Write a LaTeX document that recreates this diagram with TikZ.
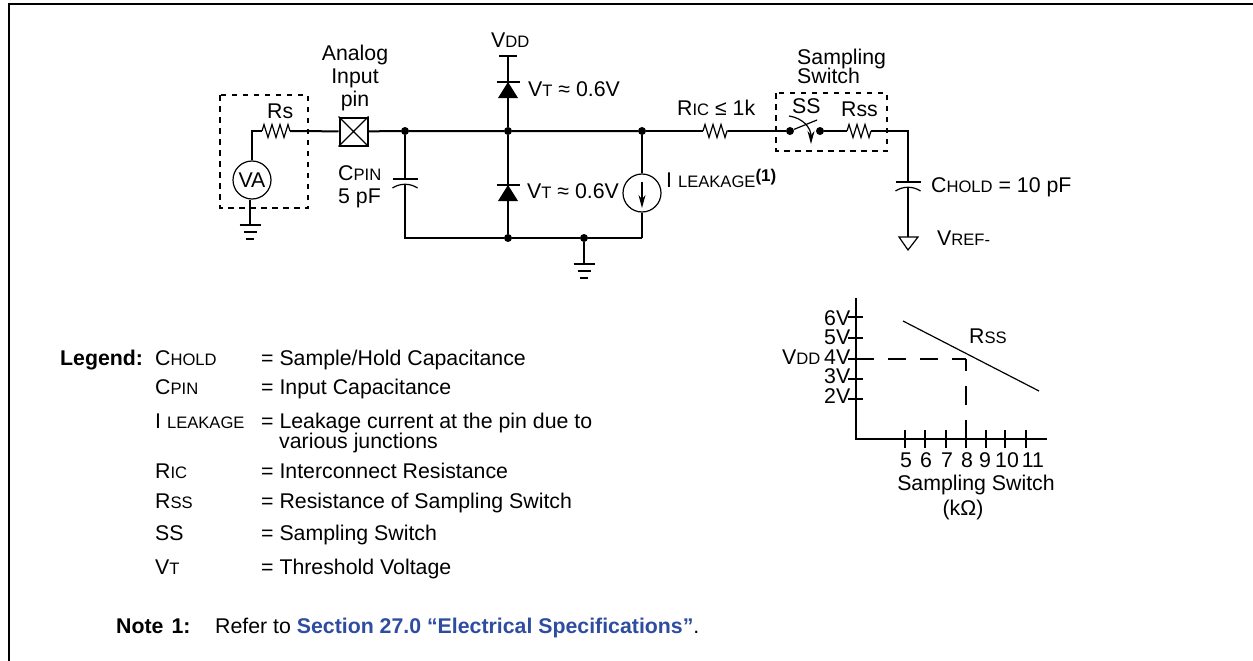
\documentclass[tikz,border=0pt]{standalone}
\usepackage{fontspec}
\setsansfont{Liberation Sans}
\usetikzlibrary{arrows.meta}
\usetikzlibrary{decorations.pathmorphing}
\definecolor{linkblue}{HTML}{2F4DA0}
\tikzset{every picture/.style={/utils/exec={\sffamily}}}
\newcommand{\lowcaps}[1]{{\fontsize{16.6}{18}\selectfont #1}}
\tikzset{
  wire/.style={line width=2pt},
  thin wire/.style={line width=1.2pt},
  box line/.style={line width=2pt, dash pattern=on 5.5pt off 5.5pt},
  junction/.style={circle, fill=black, minimum size=8pt},
  resistor/.style={line width=1.2pt, decorate, decoration={zigzag, amplitude=6.5pt, segment length=8pt}},
  label/.style={anchor=base west},
  legendterm/.style={anchor=base west},
  legendtext/.style={anchor=base west, align=left},
  ground/.pic={
    \draw [wire] (-10.5,0) -- (10.5,0);
    \draw [wire] (-6.5,7) -- (6.5,7);
    \draw [wire] (-4,14) -- (4,14);
  },
  diode/.pic={
    \draw [wire] (-11.5,0) -- (11.5,0);
    \fill (0,0) -- (-10,16) -- (10,16) -- cycle;
  },
  capacitor/.pic={
    \draw [wire] (-12.5,0) -- (12.5,0);
    \draw [thin wire] (-12.5,9) .. controls (-5,4) and (5,4) .. (12.5,9);
  },
}
\begin{document}
\begin{tikzpicture}[x=1pt, y=-1pt, every node/.style={inner sep=0pt, font=\fontsize{21.3}{23}\selectfont}]
  \useasboundingbox (0,0) rectangle (1253,661);
  \draw [wire] (9,662) -- (9,4) -- (1254,4);

  % source side
  \node [draw, thin wire, circle, minimum size=38pt] (va) at (252,180) {VA};
  \coordinate (corner) at (252,131);
  \coordinate (rsleft) at (262,131);
  \coordinate (rsright) at (290,131);
  \coordinate (vaground) at (250,225);
  \node [draw, wire, minimum size=28pt] (pin) at (353.5,131.5) {};
  \draw [thin wire] (pin.north west) -- (pin.south east) (pin.north east) -- (pin.south west);
  \draw [box line] (220,95) rectangle (308,208);
  \draw [wire] (va) -- (corner) -- (rsleft);
  \draw [resistor] (rsleft) -- (rsright);
  \draw [wire] (rsright) -- (pin);
  \draw [wire] (va.south -| vaground) -- (vaground);
  \pic at (vaground) {ground};
  \node [label] (rs) at (267,118) {Rs};
  \node [align=center] (pinlabel) at (355,77.5) {Analog\\Input\\pin};

  % nodes on the input rail
  \node [junction] (cpintop) at (405,131) {};
  \node [junction] (railmid) at (508,131) {};
  \node [junction] (railright) at (642,131) {};
  \node [junction] (cpinbottom) at (508,238) {};
  \node [junction] (gndtap) at (584,238) {};
  \coordinate (cpincorner) at (405,238);
  \coordinate (srccorner) at (642,238);
  \coordinate (vddend) at (508,56);
  \coordinate (upperdiode) at (508,82);
  \coordinate (lowerdiode) at (508,185);
  \coordinate (cpinplate) at (405,179);
  \coordinate (cpincurve) at (405,184);
  \coordinate (gndend) at (584,264);

  \draw [wire] (pin) -- (cpintop) -- (railmid) -- (railright);
  \draw [wire] (vddend) -- (railmid) -- (cpinbottom);
  \draw [wire] (499,56) -- (517,56);
  \draw [wire] (cpintop) -- (cpinplate);
  \draw [wire] (cpincurve) -- (cpincorner) -- (cpinbottom) -- (gndtap) -- (srccorner);
  \draw [wire] (gndtap) -- (gndend);
  \pic at (upperdiode) {diode};
  \pic at (lowerdiode) {diode};
  \pic at (cpinplate) {capacitor};
  \pic at (gndend) {ground};

  \node [draw, thin wire, circle, minimum size=38pt] (leak) at (642,193) {};
  \coordinate (leaktail) at (642,182);
  \coordinate (leakhead) at (642,208);
  \draw [wire] (railright) -- (leak);
  \draw [wire] (leak) -- (srccorner);
  \draw [thin wire, -{Stealth[length=13pt, width=7pt]}] (leaktail) -- (leakhead);

  \node [label] (vdd) at (491,48) {V\lowcaps{DD}};
  \node [label] (vtupper) at (528,96) {V\lowcaps{T} ≈ 0.6V};
  \node [label] (vtlower) at (527,198) {V\lowcaps{T} ≈ 0.6V};
  \node [label] (cpin) at (338,180) {C\lowcaps{PIN}};
  \node [label] (cpinval) at (338,203) {5 pF};
  \node [label] (ileak) at (666,187) {I \lowcaps{LEAKAGE}\raisebox{6pt}{\fontsize{17}{19}\selectfont\textbf{(1)}}};

  % sampling switch
  \coordinate (ricleft) at (703,131);
  \coordinate (ricright) at (728,131);
  \node [junction] (swleft) at (790,131) {};
  \node [junction] (swright) at (820,131) {};
  \coordinate (swtip) at (817,120);
  \coordinate (rssleft) at (847,131);
  \coordinate (rssright) at (871,131);
  \coordinate (holdcorner) at (908,131);
  \coordinate (holdplate) at (908,182);
  \coordinate (holdcurve) at (908,187);
  \coordinate (vrefend) at (908,237);
  \coordinate (arcstart) at (789,116);
  \coordinate (arcend) at (811,144);

  \draw [box line] (776,93) rectangle (887,151);
  \draw [wire] (railright) -- (ricleft);
  \draw [resistor] (ricleft) -- (ricright);
  \draw [wire] (ricright) -- (swleft);
  \draw [thin wire] (swleft) -- (swtip);
  \draw [thin wire, -{Stealth[length=13pt, width=7pt]}] (arcstart) .. controls (803,118) and (811,128) .. (arcend);
  \draw [wire] (swright) -- (rssleft);
  \draw [resistor] (rssleft) -- (rssright);
  \draw [wire] (rssright) -- (holdcorner) -- (holdplate);
  \draw [wire] (holdcurve) -- (vrefend);
  \pic at (holdplate) {capacitor};
  \draw [thin wire] (899,237) -- (918,237) -- (vrefend |- 0,250) -- cycle;

  \node [label] (ric) at (677,115) {R\lowcaps{IC} ≤ 1k};
  \node [label] (ss) at (792,113) {SS};
  \node [label] (rss) at (841,116) {Rss};
  \node [label] (sampling) at (797,64) {Sampling};
  \node [label] (switch) at (797,83) {Switch};
  \node [label] (chold) at (931,192) {C\lowcaps{HOLD} = 10 pF};
  \node [label] (vref) at (937,245) {V\lowcaps{REF-}};

  % graph
  \coordinate (origin) at (856,439);
  \coordinate (ytop) at (856,298);
  \coordinate (xend) at (1047,439);
  \coordinate (knee) at (966,359);
  \coordinate (vfour) at (856,359);
  \coordinate (kneefoot) at (966,439);
  \coordinate (rsstart) at (903,321);
  \coordinate (rsend) at (1039,391);
  \draw [wire] (ytop) -- (origin) -- (xend);
  \draw [wire] (848,317) -- (863,317) (848,338) -- (863,338) (848,359) -- (863,359)
    (848,379) -- (863,379) (848,399) -- (863,399);
  \draw [wire] (905,430) -- (905,448) (925,430) -- (925,448) (946,430) -- (946,448)
    (966,430) -- (966,448) (986,430) -- (986,448) (1005,430) -- (1005,448) (1026,430) -- (1026,448);
  \draw [wire, dash pattern=on 18pt off 14pt] (vfour) -- (knee);
  \draw [wire, dash pattern=on 19pt off 15pt] (kneefoot) -- (knee);
  \draw [thin wire] (rsstart) -- (rsend);

  \node [label] (six) at (824,325) {6V};
  \node [label] (five) at (824,344) {5V};
  \node [label] (four) at (824,364) {4V};
  \node [label] (three) at (824,383) {3V};
  \node [label] (two) at (824,403) {2V};
  \node [label] (vddaxis) at (782,364) {V\lowcaps{DD}};
  \node [label] (rssline) at (969,343) {R\lowcaps{SS}};
  \node [anchor=base] (kfive) at (906,467) {5};
  \node [anchor=base] (ksix) at (926,467) {6};
  \node [anchor=base] (kseven) at (947,467) {7};
  \node [anchor=base] (keight) at (967,467) {8};
  \node [anchor=base] (knine) at (985,467) {9};
  \node [anchor=base] (kten) at (1007,467) {10};
  \node [anchor=base] (keleven) at (1033,467) {11};
  \node [anchor=base] (xtitle) at (976,490) {Sampling Switch};
  \node [anchor=base] (xunit) at (963,515) {(kΩ)};

  % legend
  \begin{scope}[every node/.append style={legendterm}]
    \node (legendhead) at (60,365) {\textbf{Legend:}};
    \node (tchold) at (155,365) {C\lowcaps{HOLD}};
    \node (tcpin) at (155,394) {C\lowcaps{PIN}};
    \node (tileak) at (155,428) {I \lowcaps{LEAKAGE}};
    \node (tric) at (155,478) {R\lowcaps{IC}};
    \node (trss) at (155,508) {R\lowcaps{SS}};
    \node (tss) at (155,540) {SS};
    \node (tvt) at (155,574) {V\lowcaps{T}};
  \end{scope}
  \begin{scope}[every node/.append style={legendtext}]
    \node (dchold) at (261,365) {= Sample/Hold Capacitance};
    \node (dcpin) at (261,394) {= Input Capacitance};
    \node (dileak) at (261,428) {= Leakage current at the pin due to};
    \node (dileakb) at (279,448) {various junctions};
    \node (dric) at (261,478) {= Interconnect Resistance};
    \node (drss) at (261,508) {= Resistance of Sampling Switch};
    \node (dss) at (261,540) {= Sampling Switch};
    \node (dvt) at (261,574) {= Threshold Voltage};
  \end{scope}

  \node [label] (notehead) at (116,633) {\textbf{Note\hspace{8pt}1:}};
  \node [label] (notetext) at (215,633) {Refer to \textcolor{linkblue}{\textbf{Section 27.0 “Electrical Specifications”}}.};
\end{tikzpicture}
\end{document}
